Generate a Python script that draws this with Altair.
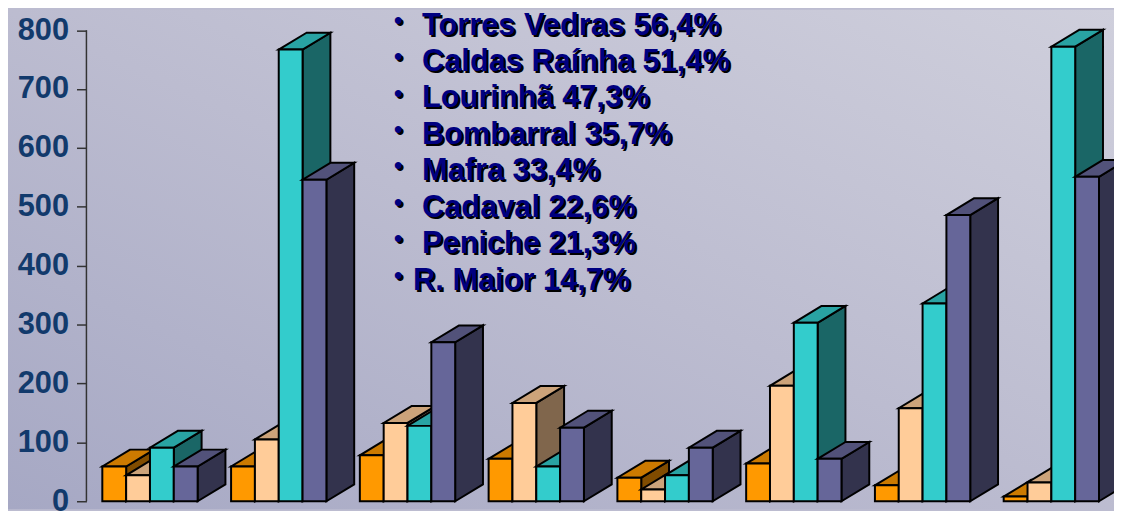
import altair as alt
import pandas as pd

# ---------------- data ----------------
n_groups = 8
orange = [59, 59, 78, 72, 40, 64, 27, 8]
peach = [44, 105, 133, 167, 20, 196, 158, 32]
cyan = [91, 767, 128, 59, 44, 303, 336, 772]
purple = [59, 546, 270, 125, 91, 72, 486, 551]
series_values = [orange, peach, cyan, purple]

front_colors = ["#FF9900", "#FFCC99", "#33CCCC", "#666699"]
top_colors = ["#CC7A00", "#CCA37A", "#29A3A3", "#52527A"]
side_colors = ["#804C00", "#80664C", "#1A6666", "#33334D"]

y_ticks = [0, 100, 200, 300, 400, 500, 600, 700, 800]

bullet_lines = [
    "Torres Vedras 56,4%",
    "Caldas Raínha 51,4%",
    "Lourinhã 47,3%",
    "Bombarral 35,7%",
    "Mafra 33,4%",
    "Cadaval 22,6%",
    "Peniche 21,3%",
    "R. Maior 14,7%",
]

# ---------------- layout constants ----------------
W, H = 1114, 503
GROUP_PX = 129.7          # pixels per group
PX_PER_UNIT = 0.5931      # pixels per y unit
X0 = -(151 - 8) / GROUP_PX
X1 = X0 + W / GROUP_PX
Y_TOP = 495 / PX_PER_UNIT
Y_BOT = -(H - 495) / PX_PER_UNIT
BW = 24 / GROUP_PX        # bar width in group units
DX = 28 / GROUP_PX        # depth offset x
DY = 17 / PX_PER_UNIT     # depth offset y

xscale = alt.Scale(domain=[X0, X1], nice=False, zero=False)
yscale = alt.Scale(domain=[Y_BOT, Y_TOP], nice=False, zero=False)
y_axis = alt.Axis(
    values=y_ticks, offset=-79, domain=False, grid=False, zindex=2,
    tickSize=10, tickColor="#333333", tickWidth=1.5,
    labelPadding=8, labelFont="Liberation Sans", labelFontSize=31,
    labelFontWeight="bold", labelColor="#123a6c", title=None,
)

front_rows, side_rows, top_rows = [], [], []
for s, vals in enumerate(series_values):
    for g in range(n_groups):
        h = vals[g]
        xl = g + (s - 2) * BW
        xr = xl + BW
        fid = f"{s}-{g}"
        front_rows.append(dict(s=s, g=g, xl=xl, xr=xr, base=0, h=h))
        side_rows.append(dict(s=s, fid=fid, x=xr, y=0, y2=h))
        side_rows.append(dict(s=s, fid=fid, x=xr + DX, y=DY, y2=h + DY))
        top_rows.append(dict(s=s, fid=fid, y=h, x=xl, x2=xr))
        top_rows.append(dict(s=s, fid=fid, y=h + DY, x=xl + DX, x2=xr + DX))

front_df = pd.DataFrame(front_rows)
side_df = pd.DataFrame(side_rows)
top_df = pd.DataFrame(top_rows)

gradient = alt.LinearGradient(
    gradient="linear",
    stops=[
        alt.GradientStop(color="#a6a8c4", offset=0),
        alt.GradientStop(color="#bcbcd0", offset=0.5),
        alt.GradientStop(color="#cfcfdc", offset=1),
    ],
    x1=0, y1=1, x2=1, y2=0,
)

bg = alt.Chart(pd.DataFrame({"x": [X0], "x2": [X1], "y": [Y_BOT], "y2": [Y_TOP]})).mark_rect(
    fill=gradient, strokeWidth=0
).encode(
    x=alt.X("x:Q", scale=xscale, axis=None),
    x2="x2:Q",
    y=alt.Y("y:Q", scale=yscale, axis=y_axis),
    y2="y2:Q",
)

layers = [bg]
for s in range(4):
    side = alt.Chart(side_df[side_df.s == s]).mark_area(
        fill=side_colors[s], stroke="black", strokeWidth=2, strokeJoin="miter", opacity=1
    ).encode(
        x=alt.X("x:Q", scale=xscale, axis=None),
        y=alt.Y("y:Q", scale=yscale, axis=y_axis, stack=False),
        y2="y2:Q",
        detail="fid:N",
    )
    top = alt.Chart(top_df[top_df.s == s]).mark_area(
        fill=top_colors[s], stroke="black", strokeWidth=2, strokeJoin="miter", opacity=1,
        orient="horizontal",
    ).encode(
        y=alt.Y("y:Q", scale=yscale, axis=y_axis),
        x=alt.X("x:Q", scale=xscale, axis=None, stack=False),
        x2="x2:Q",
        detail="fid:N",
    )
    front = alt.Chart(front_df[front_df.s == s]).mark_rect(
        fill=front_colors[s], stroke="black", strokeWidth=2, strokeJoin="miter"
    ).encode(
        x=alt.X("xl:Q", scale=xscale, axis=None),
        x2="xr:Q",
        y=alt.Y("base:Q", scale=yscale, axis=y_axis),
        y2="h:Q",
    )
    layers += [side, top, front]

axis_line = alt.Chart(pd.DataFrame({"a": [y_ticks[0]], "b": [y_ticks[-1]]})).mark_rule(
    color="#333333", strokeWidth=1.5
).encode(
    x=alt.value(79),
    y=alt.Y("a:Q", scale=yscale, axis=y_axis),
    y2="b:Q",
)
layers.append(axis_line)

bars = alt.layer(*layers)

text_df = pd.DataFrame({"i": list(range(len(bullet_lines))), "t": bullet_lines, "b": ["•"] * len(bullet_lines)})
tscale = alt.Scale(domain=[-25 / 36.7, (H - 25) / 36.7], reverse=True, nice=False, zero=False)
tbase = alt.Chart(text_df)
font = dict(font="Liberation Sans", fontWeight="bold", baseline="alphabetic")
ty = alt.Y("i:Q", scale=tscale, axis=None)

last = len(bullet_lines) - 1
t_layers = []
for cond, xpos in [(alt.datum.i < last, 417), (alt.datum.i == last, 408)]:
    t_layers.append(tbase.transform_filter(cond).mark_text(
        align="left", fontSize=31, color="black", dx=2, dy=2, **font
    ).encode(x=alt.value(xpos), y=ty, text="t:N"))
    t_layers.append(tbase.transform_filter(cond).mark_text(
        align="left", fontSize=31, color="#000080", **font
    ).encode(x=alt.value(xpos), y=ty, text="t:N"))

b_shadow = tbase.mark_text(align="center", fontSize=24, color="black", dx=2, dy=-4, **font).encode(
    x=alt.value(393), y=ty, text="b:N")
b_main = tbase.mark_text(align="center", fontSize=24, color="#000080", dy=-6, **font).encode(
    x=alt.value(393), y=ty, text="b:N")

texts = alt.layer(b_shadow, b_main, *t_layers)

chart = alt.layer(bars, texts).resolve_scale(y="independent").properties(
    width=W, height=H, padding=0, autosize=alt.AutoSizeParams(type="none"),
    background="#bcbcd0",
).configure_view(stroke=None)

chart.save("out.html", embed_options={"renderer": "svg", "actions": False})
